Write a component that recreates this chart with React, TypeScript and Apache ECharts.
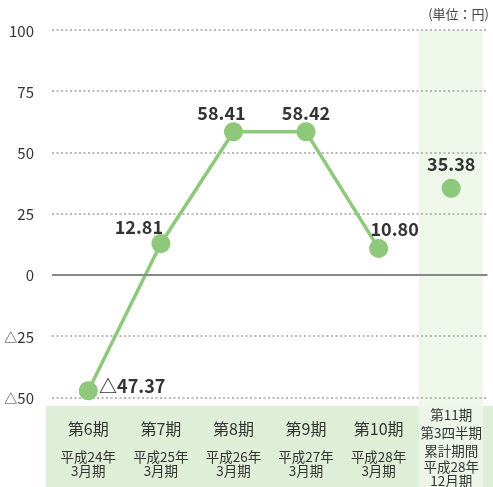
import React, { useEffect, useRef } from "react";
import * as echarts from "echarts";

const periods = ["第6期", "第7期", "第8期", "第9期", "第10期", "第11期\n第3四半期\n累計期間"];
const fiscal = ["平成24年\n3月期", "平成25年\n3月期", "平成26年\n3月期", "平成27年\n3月期", "平成28年\n3月期", "平成28年\n12月期"];
const annualEps = [-47.37, 12.81, 58.41, 58.42, 10.8, null];
const quarterEps = [null, null, null, null, null, 35.38];
const labelOffsets = [[44, -6], [-22, -17], [-12, -20], [0, -20], [16, -20], [0, -25]];
const yTicks = { min: -50, max: 100, interval: 25 };

const FONT = "'Noto Sans CJK JP', 'Noto Sans', sans-serif";
const GREEN = "#8ec97b";

const fmt = (v: number) => (v < 0 ? "△" + Math.abs(v).toFixed(2) : v.toFixed(2));

export default function App() {
  const ref = useRef<HTMLDivElement>(null);
  useEffect(() => {
    if (!ref.current) return;
    const chart = echarts.init(ref.current, null, { renderer: "svg" });
    const mkData = (arr: (number | null)[]) =>
      arr.map((v, i) =>
        v === null
          ? "-"
          : {
              value: v,
              label: { offset: labelOffsets[i] },
            }
      );
    chart.setOption({
      animation: false,
      textStyle: { fontFamily: FONT },
      grid: { left: 52, right: 5.5, top: 30, bottom: 88 },
      graphic: [
        { type: "rect", z: -10, silent: true, shape: { x: 419, y: 30, width: 64, height: 376 }, style: { fill: "#eef7ea" } },
        { type: "rect", z: -10, silent: true, shape: { x: 46, y: 406, width: 447, height: 81 }, style: { fill: "#dfeed7" } },
        { type: "rect", z: -9, silent: true, shape: { x: 419, y: 406, width: 64, height: 81 }, style: { fill: "#ecf5e7" } },
        {
          type: "text",
          right: 4,
          top: 7,
          style: { text: "(単位：円)", fontSize: 13, fill: "#444", fontFamily: FONT },
        },
      ],
      xAxis: {
        type: "category",
        data: periods,
        boundaryGap: true,
        axisLine: { show: false },
        axisTick: { show: false },
        splitLine: { show: false },
        axisLabel: {
          interval: 0,
          margin: 49,
          verticalAlign: "middle",
          color: "#333",
          formatter: (_v: string, idx: number) => {
            const main = periods[idx].split("\n");
            const sub = fiscal[idx].split("\n");
            if (main.length > 1) {
              return [...main.map((l) => `{m2|${l}}`), ...sub.map((l) => `{s|${l}}`)].join("\n");
            }
            return [...main.map((l) => `{m|${l}}`), "{g| }", ...sub.map((l) => `{s|${l}}`)].join("\n");
          },
          rich: {
            m: { fontSize: 16, lineHeight: 24, color: "#333", fontFamily: FONT },
            m2: { fontSize: 13.5, lineHeight: 18, color: "#333", fontFamily: FONT },
            g: { fontSize: 2, lineHeight: 9 },
            s: { fontSize: 13.5, lineHeight: 14, color: "#333", fontFamily: FONT },
          },
        },
      },
      yAxis: {
        type: "value",
        min: yTicks.min,
        max: yTicks.max,
        interval: yTicks.interval,
        axisLine: { show: false },
        axisTick: { show: false },
        axisLabel: {
          margin: 18,
          fontSize: 15,
          color: "#333",
          fontFamily: FONT,
          formatter: (v: number) => (v < 0 ? "{t|△}" + Math.abs(v) : String(v)),
          rich: { t: { fontSize: 13, color: "#333", fontFamily: FONT } },
        },
        splitLine: {
          lineStyle: { color: "#b8b8b8", width: 2, type: [2, 2.5] },
        },
      },
      series: [
        {
          type: "line",
          data: mkData(annualEps),
          symbol: "circle",
          symbolSize: 19,
          lineStyle: { color: GREEN, width: 3.5 },
          itemStyle: { color: GREEN },
          label: {
            show: true,
            position: "inside",
            formatter: (p: any) => fmt(p.value),
            fontSize: 18,
            fontWeight: "bold",
            color: "#333",
            fontFamily: FONT,
          },
          markLine: {
            silent: true,
            symbol: "none",
            label: { show: false },
            lineStyle: { color: "#888", width: 2, type: "solid" },
            data: [{ yAxis: 0 }],
          },
          z: 3,
        },
        {
          type: "line",
          data: mkData(quarterEps),
          symbol: "circle",
          symbolSize: 19,
          lineStyle: { color: GREEN, width: 0 },
          itemStyle: { color: GREEN },
          label: {
            show: true,
            position: "inside",
            formatter: (p: any) => fmt(p.value),
            fontSize: 18,
            fontWeight: "bold",
            color: "#333",
            fontFamily: FONT,
          },
          z: 3,
        },
      ],
    });
    return () => chart.dispose();
  }, []);
  return <div ref={ref} style={{ position: "fixed", left: 0, top: 0, width: 493, height: 487 }} />;
}
